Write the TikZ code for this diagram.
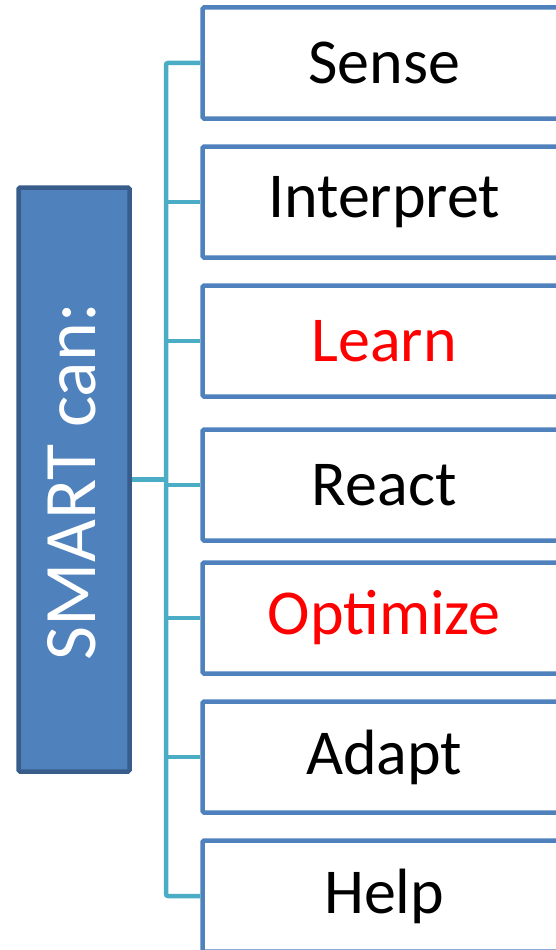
\documentclass[tikz,border=0pt]{standalone}
\usepackage{fontspec}
\setmainfont{Carlito}
\definecolor{accentblue}{HTML}{4F81BD}
\definecolor{darkblue}{HTML}{385D8A}
\definecolor{tealline}{HTML}{4BACC6}
\definecolor{hotred}{HTML}{FF0000}
\begin{document}
\begin{tikzpicture}[x=1pt,y=-1pt,
  rootbox/.style={draw=darkblue, fill=accentblue, line width=4.5pt,
    rounded corners=1.5pt, minimum width=111pt, minimum height=584pt,
    inner sep=0pt},
  rootlabel/.style={rotate=90, anchor=base, inner sep=0pt, text=white,
    font=\fontsize{74}{80}\selectfont},
  itembox/.style={draw=accentblue, fill=white, line width=4.5pt,
    rounded corners=1.5pt, minimum width=363.5pt, minimum height=111pt,
    inner sep=0pt, font=\fontsize{64}{70}\selectfont},
  hot/.style={text=hotred},
  conn/.style={draw=tealline, line width=4.5pt}]
\useasboundingbox (0,0) rectangle (556,950);
\begin{scope}
\clip (0,0) rectangle (556,950);
% root block with vertical caption
\node[rootbox] (smart) at (74,479.5) {};
\node[rootlabel] (smarttext) at (95.5,481.5) {SMART can:};
% list of capabilities
\node[itembox] (b1) at (384.25,63) {Sense};
\node[itembox] (b2) at (384.25,202) {Interpret};
\node[itembox,hot] (b3) at (384.25,341) {Learn};
\node[itembox] (b4) at (384.25,485) {React};
\node[itembox,hot] (b5) at (384.25,618) {Optimize};
\node[itembox] (b6) at (384.25,757) {Adapt};
\node[itembox] (b7) at (384.25,896) {Help};
% bracket connector
\coordinate (tx) at (166,0);
\draw[conn] (smart.east) -- (smart.east -| tx);
\draw[conn, rounded corners=2pt] (b1.west) -- (b1.west -| tx) -- (b7.west -| tx) -- (b7.west);
\foreach \b in {b2,b3,b4,b5,b6} {
  \draw[conn] (\b.west -| tx) -- (\b.west);
}
\end{scope}
\end{tikzpicture}
\end{document}
